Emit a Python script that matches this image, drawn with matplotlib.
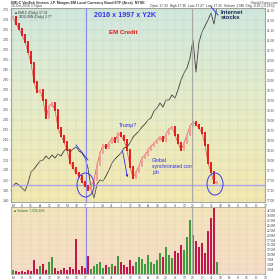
import numpy as np
import matplotlib.pyplot as plt
from matplotlib.patches import Ellipse
from matplotlib.colors import LinearSegmentedColormap

plt.rcParams['font.family'] = ['Liberation Sans', 'DejaVu Sans']

# EMLC closes (right scale)
emlc = [21.575, 21.40, 21.275, 21.125, 20.95, 20.70, 20.425, 19.95, 19.70, 19.75,
        19.50, 19.05, 19.35, 19.425, 19.25, 18.80, 18.60, 18.45, 18.25, 17.925,
        17.80, 17.675, 17.60, 17.45, 17.35, 17.25, 17.35, 17.50, 17.875, 18.175,
        18.375, 18.30, 18.425, 18.55, 18.45, 18.675, 18.60, 18.50, 18.25, 17.825,
        17.55, 17.70, 17.85, 18.05, 18.125, 18.25, 18.35, 18.425, 18.50, 18.575,
        18.475, 18.65, 18.775, 18.825, 18.625, 18.425, 18.25, 18.425, 18.625, 18.85,
        18.95, 18.875, 18.80, 18.675, 18.375, 17.925, 17.70, 17.425, 17.45]

# overlay (internet stocks, left scale)
ovl = [1.87, 1.885, 1.875, 1.86, 1.845, 1.885, 1.94, 1.955, 1.975, 1.995,
       2.00, 2.02, 2.005, 2.025, 2.01, 2.03, 2.02, 2.045, 2.06, 2.04,
       2.055, 2.065, 2.045, 2.035, 2.01, 1.96, 1.86, 1.81, 1.88, 1.90,
       1.895, 1.92, 1.95, 1.985, 2.005, 2.02, 2.035, 2.06, 2.065, 2.085,
       2.115, 2.13, 2.145, 2.165, 2.18, 2.20, 2.21, 2.245, 2.26, 2.285,
       2.265, 2.30, 2.30, 2.325, 2.31, 2.35, 2.40, 2.435, 2.46, 2.51,
       2.60, 2.44, 2.59, 2.64, 2.67, 2.70, 2.735, 2.68, 2.77]

# volume in millions
vol = [2, 1.5, 1, 1.5, 1, 2, 1.5, 7, 2.5, 4,
       5, 2, 6, 9, 3, 1.5, 2, 3, 2, 3.5,
       2.5, 18, 2, 4, 3, 9.5, 2.5, 4, 5, 6,
       3, 4.5, 3.5, 5, 4, 9.5, 6, 4.5, 3.5, 7,
       4, 6, 9, 7.5, 5, 10, 6, 5, 7, 11,
       9, 14, 10, 8, 12, 11, 15, 12.5, 19, 28,
       20, 17, 14, 16, 11, 22, 29, 34, 6]

xtick_labels = ['M', '8', '15', 'A', '12', '19', 'M', '10', '17', 'J', '14', '21', 'J', '12',
                '19', 'A', '16', '23', 'S', '13', '20', 'O', '11', '18', 'N', '8', '15', 'D', '13']

support = 17.375
blue_day, grey_day = 24.33, 59.67

days = np.arange(len(emlc))
emlc = np.array(emlc)
prev = np.r_[emlc[0], emlc[:-1]]
up = emlc >= prev

W = H = 280
def box(l, t, r, b):
    return [l / W, 1 - b / H, (r - l) / W, (b - t) / H]

fig = plt.figure(figsize=(2.8, 2.8), dpi=100)
fig.patch.set_facecolor('white')
ax = fig.add_axes(box(11, 8, 265, 202))
axo = ax.twinx()
axv = fig.add_axes(box(11, 207, 265, 274), sharex=ax)

xlim = (-0.67, 84)
ylim = (16.95, 21.80)
olim = (1.79, 2.76)
ax.set_xlim(*xlim)
ax.set_ylim(*ylim)
axo.set_ylim(*olim)
axv.set_ylim(0, 34.5)

# backgrounds
grad = np.linspace(0, 1, 256).reshape(-1, 1)
cm_main = LinearSegmentedColormap.from_list('m', ['#cfe8e0', '#e6ecc8', '#f6e8ae'])
cm_vol = LinearSegmentedColormap.from_list('v', ['#f4e6bc', '#f6dcc8'])
axo.imshow(grad, cmap=cm_main, extent=[*xlim, *olim], aspect='auto', zorder=0)
axv.imshow(grad, cmap=cm_vol, extent=[*xlim, 0, 34.5], aspect='auto', zorder=0)
ax.set_zorder(axo.get_zorder() + 1)
ax.patch.set_visible(False)

# grids
for y in np.arange(17.0, 21.8, 0.25):
    ax.axhline(y, color='#c9d3bd', lw=0.3, zorder=0)
for x in range(0, 85, 3):
    ax.axvline(x, color='#c9d3bd', lw=0.3, zorder=0)
    axv.axvline(x, color='#e0cfb0', lw=0.3, zorder=1)
for y in np.arange(2.5, 34, 2.5):
    axv.axhline(y, color='#e8d2b0', lw=0.3, zorder=1)

# overlay line
axo.plot(days, ovl, color='#3a3a3a', lw=0.6, zorder=2)

# candles
ax.plot(days, emlc, color='#e03030', lw=0.4, zorder=3)
ax.vlines(days, np.minimum(prev, emlc) - 0.03, np.maximum(prev, emlc) + 0.03,
          colors=np.where(up, '#f29a9a', '#e01010'), lw=1.3, zorder=4)

# volume
axv.bar(days, vol, width=0.75, color=np.where(up, '#3d9a3d', '#c2164e'), zorder=2)

# reference lines
for a in (ax, axv):
    a.axvline(blue_day, color='#8a8af0', lw=0.8, zorder=5)
    a.axvline(grey_day, color='#a8a8a0', lw=0.8, zorder=5)
ax.axhline(support, color='#aaa4e6', lw=1.0, zorder=2)

# annotations
blue = '#2a2af0'
ax.text(37.3, 21.61, '2016 x 1997 x Y2K', color='#3535f5', fontsize=5.2, fontweight='bold',
        ha='center', va='center', zorder=6)
ax.text(36.8, 21.175, 'EM Credit', color='#e01818', fontsize=4.4, fontweight='bold',
        ha='center', va='center', zorder=6)
ax.text(69.3, 21.62, 'Internet\nstocks', color='#1c2a55', fontsize=4.4, fontweight='bold',
        ha='left', va='center', linespacing=1.05, zorder=6)
ax.text(35.3, 18.87, 'Trump?', color=blue, fontsize=3.8, ha='left', va='center', zorder=6)
ax.text(46.3, 18.05, 'Global\nsynchronized con\njob', color=blue, fontsize=3.6,
        ha='left', va='top', linespacing=1.25, zorder=6)

ax.plot([21, 25], [18.375, 18.0], color=blue, lw=0.6, zorder=6)
ax.annotate('', xy=(38.33, 17.5), xytext=(36.33, 18.3),
            arrowprops=dict(arrowstyle='-|>', color=blue, lw=0.6, mutation_scale=3), zorder=6)
ax.plot([66, 68.33], [21.83, 21.625], color=blue, lw=0.6, zorder=6, clip_on=False)
ax.add_patch(Ellipse((24.17, 17.375), 5.67, 0.6, fill=False, ec='#3a3af0', lw=0.7, zorder=6))
ax.add_patch(Ellipse((67.33, 17.40), 5.33, 0.55, fill=False, ec='#3a3af0', lw=0.7, zorder=6))

# axes styling
yt = np.arange(17.0, 21.8, 0.25)
ax.yaxis.tick_right()
ax.set_yticks(yt)
ax.set_yticklabels(['%.2f' % v for v in yt])
ot = np.arange(1.80, 2.76, 0.05)
axo.yaxis.tick_left()
axo.set_yticks(ot)
axo.set_yticklabels(['%.2f' % v for v in ot])
vt = np.arange(2.5, 34, 2.5)
axv.yaxis.tick_right()
axv.set_yticks(vt)
axv.set_yticklabels(['%.1fM' % v for v in vt])
ax.set_xticks(range(0, 85, 3))
ax.set_xticklabels(xtick_labels)
axv.tick_params(axis='x', labelbottom=True)

for a in (ax, axo, axv):
    a.tick_params(labelsize=2.3, length=1, width=0.3, pad=0.4, colors='#666666', labelcolor='#444444')
    for s in a.spines.values():
        s.set_color('#9a9a9a')
        s.set_linewidth(0.5)

# legends / header
fig.text(11 / W, 1 - 3 / H, 'EMLC VanEck Vectors J.P. Morgan EM Local Currency Bond ETF (Arca)  NYSE',
         fontsize=2.6, fontweight='bold', color='#333333', va='center')
fig.text(11 / W, 1 - 6.5 / H, '26-Oct-2018 3:59pm', fontsize=2.4, color='#444444', va='center')
fig.text(150 / W, 1 - 6.5 / H, 'Open 17.33  High 17.36  Low 17.27  Last 17.31  Volume 1.5M  Chg -0.05 (-0.29%)',
         fontsize=2.4, color='#333333', va='center')
fig.text(278 / W, 1 - 2.5 / H, '\u00a9StockCharts.com', fontsize=2.4, color='#444444', va='center', ha='right')
ax.text(0.015, 0.985, '\u25a0 EMLC (Daily) 17.31', transform=ax.transAxes, fontsize=2.4,
        color='#333333', va='top', zorder=6)
ax.text(0.015, 0.965, '\u2014 $DJUSIN (Daily) 2.77', transform=ax.transAxes, fontsize=2.4,
        color='#333333', va='top', zorder=6)
axv.text(0.01, 0.97, '\u25a0 Volume 7,556,838', transform=axv.transAxes, fontsize=2.4,
         color='#2d7a2d', va='top', zorder=6)

fig.savefig('out.png', dpi=100)
